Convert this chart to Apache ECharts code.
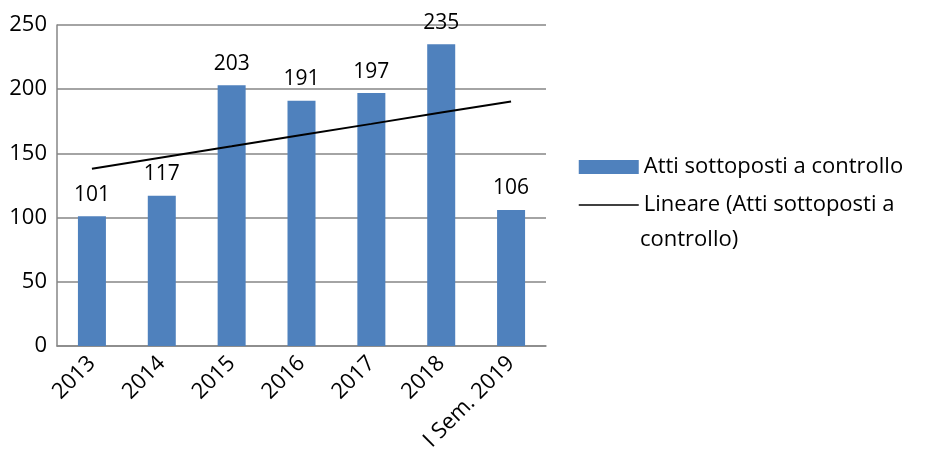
<!DOCTYPE html>
<html><head><meta charset="utf-8">
<script src="https://cdn.jsdelivr.net/npm/echarts@6/dist/echarts.min.js"></script>
<style>html,body{margin:0;padding:0;background:#fff}#c{width:927px;height:455px}</style>
</head><body><div id="c"></div>
<script>
const categories = ['2013','2014','2015','2016','2017','2018','I Sem. 2019'];
const values = [101, 117, 203, 191, 197, 235, 106];
const trendValues = [138, 146.8, 155.5, 164.3, 173, 181.8, 190.5];
const yTicks = [0, 50, 100, 150, 200, 250];
const seriesName = 'Atti sottoposti a controllo';
const trendName = 'Lineare (Atti sottoposti a controllo)';

const font = 'Open Sans';
const chart = echarts.init(document.getElementById('c'));
chart.setOption({
  animation: false,
  textStyle: {fontFamily: font},
  grid: {left: 57, right: 381, top: 25, bottom: 109, containLabel: false},
  legend: {
    orient: 'vertical', left: 573, top: 151, itemWidth: 60, itemHeight: 14, itemGap: 16,
    textStyle: {fontFamily: font, fontSize: 22, color: '#000'},
    formatter: n => n === trendName ? 'Lineare (Atti sottoposti a' : n,
    data: [{name: seriesName, icon: 'rect'}, {name: trendName, itemStyle: {opacity: 0}, lineStyle: {width: 1.5}}]
  },
  graphic: [{type: 'text', left: 640, top: 229, style: {text: 'controllo)', font: '22px "Open Sans"', fill: '#000'}}],
  xAxis: {
    type: 'category', data: categories,
    axisLine: {lineStyle: {color: '#868686', width: 1.5}},
    axisTick: {show: false},
    axisLabel: {rotate: 45, fontSize: 22, color: '#000', interval: 0, margin: 14}
  },
  yAxis: {
    type: 'value', min: yTicks[0], max: yTicks[yTicks.length-1], interval: 50,
    axisLine: {show: true, lineStyle: {color: '#868686', width: 1.5}},
    axisTick: {show: false},
    splitLine: {lineStyle: {color: '#868686', width: 1.5}},
    axisLabel: {fontSize: 22, color: '#000', margin: 10}
  },
  series: [
    {name: seriesName, type: 'bar', data: values, barWidth: 28,
     itemStyle: {color: '#4F81BD'},
     label: {show: true, position: 'top', distance: 11, fontSize: 21, color: '#000', fontFamily: font}},
    {name: trendName, type: 'line', data: trendValues, symbol: 'none',
     lineStyle: {color: '#000', width: 2}, itemStyle: {color: '#000'}}
  ]
});
</script></body></html>
